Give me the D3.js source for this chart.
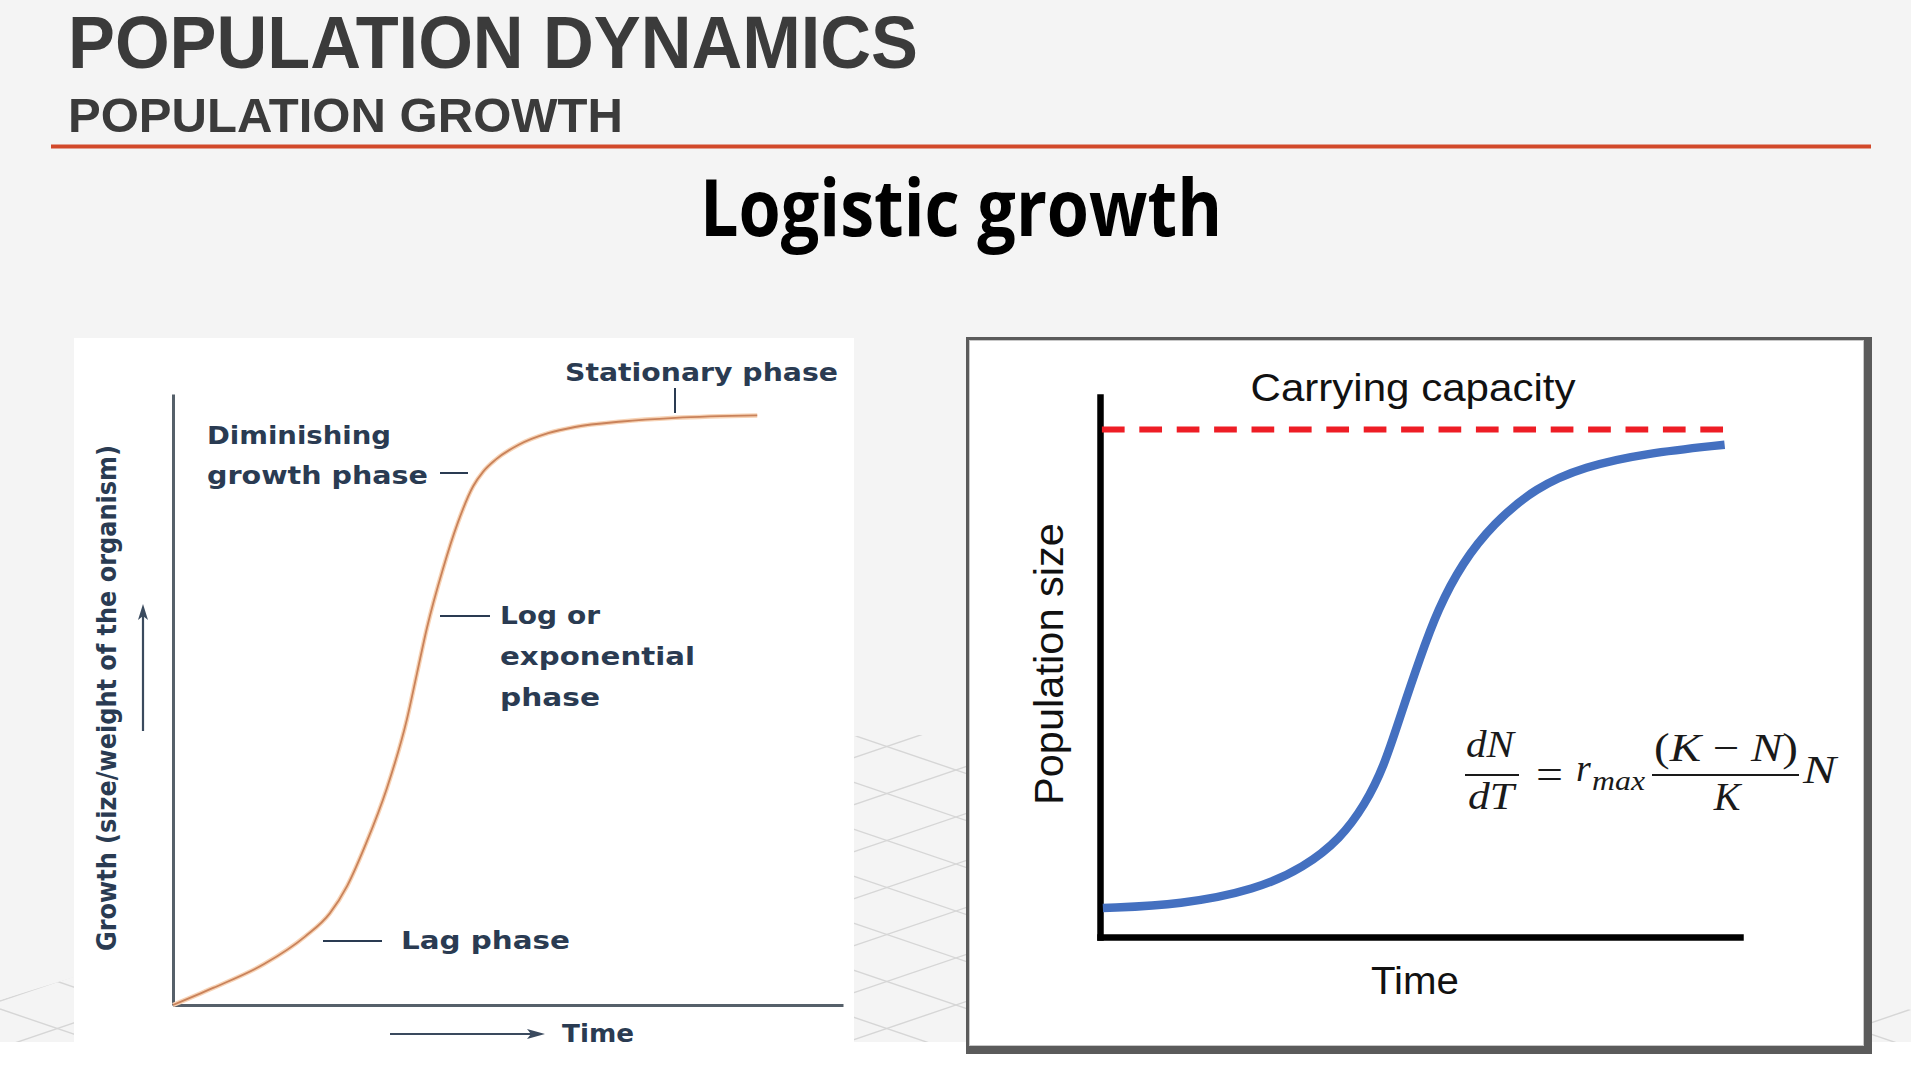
<!DOCTYPE html>
<html>
<head>
<meta charset="utf-8">
<script src="https://cdn.jsdelivr.net/npm/d3@7"></script>
<style>
  html, body { margin: 0; padding: 0; background: #ffffff; }
  svg { display: block; }
</style>
</head>
<body>
<svg id="chart" width="1911" height="1090"></svg>
<script>
// ---------------- DATA ----------------
// Left chart: generic growth curve (S-shaped) (0-100 units)
const leftTime   = [0, 6, 13.6, 19.7, 23.4, 26.0, 28.8, 31.9, 34.9, 36.4, 37.9, 40.3, 42.5, 44.8, 46.3, 48.2, 51.6, 56.0, 60.0, 67.0, 75.0, 87.2];
const leftGrowth = [0, 2.8, 6.7, 11.2, 15.0, 19.5, 26.4, 35.4, 46.7, 54.2, 61.7, 71.4, 78.9, 84.9, 87.3, 89.3, 91.7, 93.6, 94.6, 95.5, 96.1, 96.5];
const leftLabels = ["Stationary phase", "Diminishing", "growth phase", "Log or", "exponential", "phase", "Lag phase"];
const leftAxisLabels = ["Time", "Growth (size/weight of the organism)"];

// Right chart: logistic growth curve
const rightTime = [0.45, 12.8, 24.3, 31.9, 37.6, 41.4, 44.3, 47.1, 50.0, 52.8, 56.6, 61.4, 68.1, 75.7, 85.2, 97.6];
const rightPop  = [5.7, 6.4, 9.3, 13.7, 19.4, 26.1, 33.3, 44.2, 55.0, 64.6, 73.7, 81.4, 88.6, 92.7, 95.3, 97.0];
const carryingCapacity = [100];
const capacitySpan = [0.3, 97.5];
const rightAxisLabels = ["Time", "Population size"];
const rightTitle = ["Carrying capacity"];

const titles = ["POPULATION DYNAMICS", "POPULATION GROWTH", "Logistic growth"];

// ---------------- DRAW ----------------
const svg = d3.select("#chart");

// background
svg.append("rect").attr("x", 0).attr("y", 0).attr("width", 1911).attr("height", 1042).attr("fill", "#f4f4f4");

// decorative lattice
const defs = svg.append("defs");
defs.append("clipPath").attr("id", "latticeClip")
  .append("polygon")
  .attr("points", "0,1042 0,1000 860,735 975,735 1911,1010 1911,1042");
const lat = svg.append("g").attr("clip-path", "url(#latticeClip)")
  .attr("stroke", "#d6d6d6").attr("stroke-width", 1.4).attr("fill", "none");
for (let b = -1200; b < 1800; b += 47) {
  lat.append("line").attr("x1", 0).attr("y1", b).attr("x2", 1911).attr("y2", b + 0.34 * 1911);
  lat.append("line").attr("x1", 0).attr("y1", b + 650).attr("x2", 1911).attr("y2", b + 650 - 0.34 * 1911);
}

// titles
const tfont = "'Liberation Sans Narrow', 'Liberation Sans', Arial, sans-serif";
svg.append("text").text(titles[0])
  .attr("x", 68).attr("y", 68)
  .attr("font-family", tfont).attr("font-weight", 700)
  .attr("font-size", 75).attr("fill", "#3b3b3b")
  .attr("textLength", 850).attr("lengthAdjust", "spacingAndGlyphs");
svg.append("text").text(titles[1])
  .attr("x", 68).attr("y", 132)
  .attr("font-family", tfont).attr("font-weight", 700)
  .attr("font-size", 49).attr("fill", "#3b3b3b")
  .attr("textLength", 555).attr("lengthAdjust", "spacingAndGlyphs");
svg.append("line").attr("x1", 51).attr("x2", 1871).attr("y1", 146.5).attr("y2", 146.5)
  .attr("stroke", "#d2492a").attr("stroke-width", 4);
svg.append("text").text(titles[2])
  .attr("x", 961).attr("y", 236).attr("text-anchor", "middle")
  .attr("font-family", "'Open Sans', sans-serif").attr("font-weight", 700)
  .attr("font-size", 78).attr("fill", "#000")
  .attr("textLength", 522).attr("lengthAdjust", "spacingAndGlyphs");

// ---------- LEFT PANEL ----------
svg.append("rect").attr("x", 74).attr("y", 338).attr("width", 780).attr("height", 704).attr("fill", "#ffffff");

const xL = d3.scaleLinear().domain([0, 100]).range([173, 843]);
const yL = d3.scaleLinear().domain([0, 100]).range([1005, 394]);
const axisColor = "#56606a";

const gxL = svg.append("g").attr("transform", `translate(0,${yL(0)})`)
  .call(d3.axisBottom(xL).tickValues([]).tickSizeOuter(0));
const gyL = svg.append("g").attr("transform", `translate(${xL(0)},0)`)
  .call(d3.axisLeft(yL).tickValues([]).tickSizeOuter(0));
[gxL, gyL].forEach(g => g.select(".domain").attr("stroke", axisColor).attr("stroke-width", 3));

const lineL = d3.line().x((d, i) => xL(leftTime[i])).y((d, i) => yL(leftGrowth[i])).curve(d3.curveMonotoneX);
svg.append("path").datum(leftTime).attr("d", lineL)
  .attr("fill", "none").attr("stroke", "#f7d3b6").attr("stroke-width", 4.5);
svg.append("path").datum(leftTime).attr("d", lineL)
  .attr("fill", "none").attr("stroke", "#c9825a").attr("stroke-width", 1.8);

const navy = "#2a3b52";
const lfont = "'DejaVu Sans', sans-serif";
const leftLabelPos = [
  {x: 565, y: 381, w: 273},
  {x: 207, y: 444, w: 184},
  {x: 207, y: 484, w: 221},
  {x: 500, y: 624, w: 100},
  {x: 500, y: 665, w: 195},
  {x: 500, y: 706, w: 100},
  {x: 401, y: 949, w: 169}
];
leftLabels.forEach((t, i) => {
  const p = leftLabelPos[i];
  svg.append("text").text(t).attr("x", p.x).attr("y", p.y)
    .attr("font-family", lfont).attr("font-weight", 700).attr("font-size", 25)
    .attr("fill", navy).attr("textLength", p.w).attr("lengthAdjust", "spacingAndGlyphs");
});
// annotation tick marks
const ticks = [
  [675, 388, 675, 413],
  [440, 473, 468, 473],
  [440, 616, 490, 616],
  [323, 941, 382, 941]
];
ticks.forEach(t => svg.append("line").attr("x1", t[0]).attr("y1", t[1]).attr("x2", t[2]).attr("y2", t[3])
  .attr("stroke", navy).attr("stroke-width", 2));

// Time arrow + label
svg.append("line").attr("x1", 390).attr("y1", 1034).attr("x2", 536).attr("y2", 1034)
  .attr("stroke", "#3a4a5e").attr("stroke-width", 2.2);
svg.append("path").attr("d", "M545,1034 L527,1029 L531,1034 L527,1039 Z").attr("fill", "#3a4a5e");
svg.append("text").text(leftAxisLabels[0]).attr("x", 562).attr("y", 1042)
  .attr("font-family", lfont).attr("font-weight", 700).attr("font-size", 25)
  .attr("fill", navy).attr("textLength", 72).attr("lengthAdjust", "spacingAndGlyphs");

// Y label + arrow
svg.append("text").text(leftAxisLabels[1])
  .attr("transform", "translate(116,698) rotate(-90)").attr("text-anchor", "middle")
  .attr("font-family", lfont).attr("font-weight", 700).attr("font-size", 26)
  .attr("fill", navy).attr("textLength", 506).attr("lengthAdjust", "spacingAndGlyphs");
svg.append("line").attr("x1", 143).attr("y1", 731).attr("x2", 143).attr("y2", 612)
  .attr("stroke", "#3a4a5e").attr("stroke-width", 2.2);
svg.append("path").attr("d", "M143,604 L138,620 L143,616 L148,620 Z").attr("fill", "#3a4a5e");

// ---------- RIGHT PANEL ----------
svg.append("rect").attr("x", 966).attr("y", 337).attr("width", 906).attr("height", 717).attr("fill", "#5b5b5b");
svg.append("rect").attr("x", 969).attr("y", 340).attr("width", 895).attr("height", 706).attr("fill", "#c8c8c8");
svg.append("rect").attr("x", 970).attr("y", 341).attr("width", 893).attr("height", 704).attr("fill", "#ffffff");

const xR = d3.scaleLinear().domain([0, 100]).range([1100, 1740]);
const yR = d3.scaleLinear().domain([0, 106.4]).range([937, 397]);

const gxR = svg.append("g").attr("transform", `translate(0,${yR(0)})`)
  .call(d3.axisBottom(xR).tickValues([]).tickSizeOuter(0));
const gyR = svg.append("g").attr("transform", `translate(${xR(0)},0)`)
  .call(d3.axisLeft(yR).tickValues([]).tickSizeOuter(0));
[gxR, gyR].forEach(g => g.select(".domain").attr("stroke", "#000").attr("stroke-width", 6.5).attr("stroke-linecap", "square"));

// carrying capacity dashed line
svg.append("line")
  .attr("x1", xR(capacitySpan[0])).attr("x2", xR(capacitySpan[1]))
  .attr("y1", yR(carryingCapacity[0])).attr("y2", yR(carryingCapacity[0]))
  .attr("stroke", "#ee1d25").attr("stroke-width", 6).attr("stroke-dasharray", "22.7,14.7");

const lineR = d3.line().x((d, i) => xR(rightTime[i])).y((d, i) => yR(rightPop[i])).curve(d3.curveBasis);
svg.append("path").datum(rightTime).attr("d", lineR)
  .attr("fill", "none").attr("stroke", "#4470c0").attr("stroke-width", 8.5);

const sfont = "'Liberation Sans', Arial, sans-serif";
svg.append("text").text(rightTitle[0]).attr("x", 1413).attr("y", 401).attr("text-anchor", "middle")
  .attr("font-family", sfont).attr("font-size", 38).attr("fill", "#111")
  .attr("textLength", 325).attr("lengthAdjust", "spacingAndGlyphs");
svg.append("text").text(rightAxisLabels[1])
  .attr("transform", "translate(1063,664) rotate(-90)").attr("text-anchor", "middle")
  .attr("font-family", sfont).attr("font-size", 40).attr("fill", "#111")
  .attr("textLength", 282).attr("lengthAdjust", "spacingAndGlyphs");
svg.append("text").text(rightAxisLabels[0]).attr("x", 1415).attr("y", 994).attr("text-anchor", "middle")
  .attr("font-family", sfont).attr("font-size", 39).attr("fill", "#111")
  .attr("textLength", 88).attr("lengthAdjust", "spacingAndGlyphs");

// formula dN/dT = r_max (K - N)/K N
const mfont = "'Liberation Serif', 'Times New Roman', serif";
const fcol = "#1a1a1a";
const eq = svg.append("g").attr("font-family", mfont).attr("fill", fcol);
eq.append("text").text("dN").attr("x", 1466).attr("y", 757)
  .attr("font-style", "italic").attr("font-size", 38)
  .attr("textLength", 48).attr("lengthAdjust", "spacingAndGlyphs");
eq.append("line").attr("x1", 1465).attr("x2", 1519).attr("y1", 775).attr("y2", 775).attr("stroke", fcol).attr("stroke-width", 1.8);
eq.append("text").text("dT").attr("x", 1468).attr("y", 809)
  .attr("font-style", "italic").attr("font-size", 38)
  .attr("textLength", 46).attr("lengthAdjust", "spacingAndGlyphs");
eq.append("text").text("=").attr("x", 1536).attr("y", 788).attr("font-size", 42)
  .attr("textLength", 27).attr("lengthAdjust", "spacingAndGlyphs");
eq.append("text").text("r").attr("x", 1576).attr("y", 781).attr("font-style", "italic").attr("font-size", 38);
eq.append("text").text("max").attr("x", 1592).attr("y", 790).attr("font-style", "italic").attr("font-size", 27)
  .attr("textLength", 53).attr("lengthAdjust", "spacingAndGlyphs");
eq.append("line").attr("x1", 1652).attr("x2", 1799).attr("y1", 775).attr("y2", 775).attr("stroke", fcol).attr("stroke-width", 1.8);
const num = eq.append("text").attr("x", 1654).attr("y", 761).attr("font-size", 40)
  .attr("textLength", 144).attr("lengthAdjust", "spacingAndGlyphs");
num.append("tspan").text("(");
num.append("tspan").text("K").attr("font-style", "italic");
num.append("tspan").text(" \u2212 ");
num.append("tspan").text("N").attr("font-style", "italic");
num.append("tspan").text(")");
eq.append("text").text("K").attr("x", 1727).attr("y", 810).attr("text-anchor", "middle")
  .attr("font-style", "italic").attr("font-size", 40);
eq.append("text").text("N").attr("x", 1803).attr("y", 783).attr("font-style", "italic").attr("font-size", 40)
  .attr("textLength", 33).attr("lengthAdjust", "spacingAndGlyphs");
</script>
</body>
</html>
